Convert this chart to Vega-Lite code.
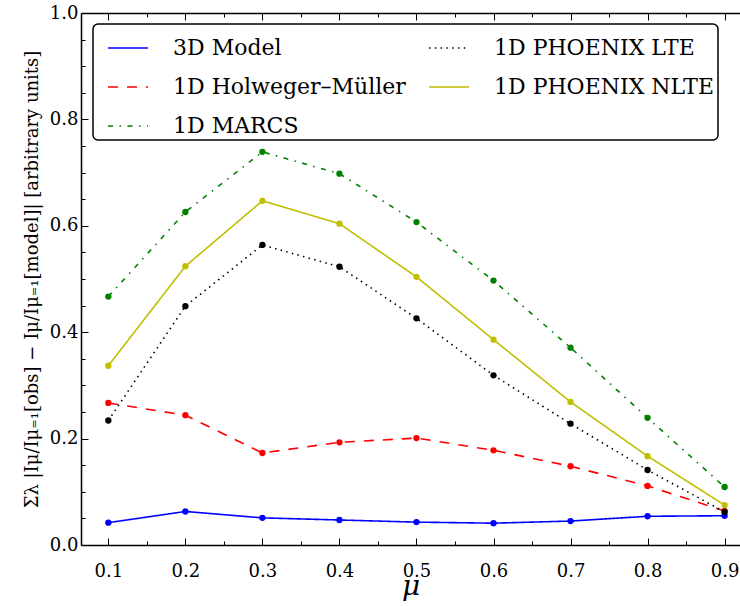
{
  "$schema": "https://vega.github.io/schema/vega-lite/v6.json",
  "width": 659,
  "height": 532,
  "autosize": "none",
  "padding": {"left": 81, "top": 13, "right": 0, "bottom": 61},
  "background": "white",
  "config": {
    "font": "DejaVu Serif",
    "view": {"stroke": null},
    "legend": {"labelFont": "DejaVu Serif"},
    "axis": {
      "grid": false,
      "domainColor": "black",
      "domainWidth": 1.5,
      "tickColor": "black",
      "tickWidth": 1,
      "labelColor": "black",
      "titleColor": "black",
      "labelFont": "DejaVu Serif",
      "titleFont": "DejaVu Serif",
      "labelFontSize": 18,
      "labelFlush": false,
      "labelOverlap": false
    }
  },
  "data": {
    "values": [
      {"mu": 0.1, "series": "3D Model", "v": 0.042},
      {"mu": 0.2, "series": "3D Model", "v": 0.063},
      {"mu": 0.3, "series": "3D Model", "v": 0.051},
      {"mu": 0.4, "series": "3D Model", "v": 0.047},
      {"mu": 0.5, "series": "3D Model", "v": 0.043},
      {"mu": 0.6, "series": "3D Model", "v": 0.041},
      {"mu": 0.7, "series": "3D Model", "v": 0.045},
      {"mu": 0.8, "series": "3D Model", "v": 0.054},
      {"mu": 0.9, "series": "3D Model", "v": 0.055},
      {"mu": 0.1, "series": "1D Holweger–Müller", "v": 0.267},
      {"mu": 0.2, "series": "1D Holweger–Müller", "v": 0.244},
      {"mu": 0.3, "series": "1D Holweger–Müller", "v": 0.173},
      {"mu": 0.4, "series": "1D Holweger–Müller", "v": 0.193},
      {"mu": 0.5, "series": "1D Holweger–Müller", "v": 0.201},
      {"mu": 0.6, "series": "1D Holweger–Müller", "v": 0.178},
      {"mu": 0.7, "series": "1D Holweger–Müller", "v": 0.148},
      {"mu": 0.8, "series": "1D Holweger–Müller", "v": 0.111},
      {"mu": 0.9, "series": "1D Holweger–Müller", "v": 0.064},
      {"mu": 0.1, "series": "1D MARCS", "v": 0.467},
      {"mu": 0.2, "series": "1D MARCS", "v": 0.626},
      {"mu": 0.3, "series": "1D MARCS", "v": 0.739},
      {"mu": 0.4, "series": "1D MARCS", "v": 0.698},
      {"mu": 0.5, "series": "1D MARCS", "v": 0.607},
      {"mu": 0.6, "series": "1D MARCS", "v": 0.497},
      {"mu": 0.7, "series": "1D MARCS", "v": 0.371},
      {"mu": 0.8, "series": "1D MARCS", "v": 0.239},
      {"mu": 0.9, "series": "1D MARCS", "v": 0.109},
      {"mu": 0.1, "series": "1D PHOENIX LTE", "v": 0.234},
      {"mu": 0.2, "series": "1D PHOENIX LTE", "v": 0.449},
      {"mu": 0.3, "series": "1D PHOENIX LTE", "v": 0.564},
      {"mu": 0.4, "series": "1D PHOENIX LTE", "v": 0.523},
      {"mu": 0.5, "series": "1D PHOENIX LTE", "v": 0.426},
      {"mu": 0.6, "series": "1D PHOENIX LTE", "v": 0.319},
      {"mu": 0.7, "series": "1D PHOENIX LTE", "v": 0.228},
      {"mu": 0.8, "series": "1D PHOENIX LTE", "v": 0.141},
      {"mu": 0.9, "series": "1D PHOENIX LTE", "v": 0.062},
      {"mu": 0.1, "series": "1D PHOENIX NLTE", "v": 0.337},
      {"mu": 0.2, "series": "1D PHOENIX NLTE", "v": 0.524},
      {"mu": 0.3, "series": "1D PHOENIX NLTE", "v": 0.647},
      {"mu": 0.4, "series": "1D PHOENIX NLTE", "v": 0.604},
      {"mu": 0.5, "series": "1D PHOENIX NLTE", "v": 0.504},
      {"mu": 0.6, "series": "1D PHOENIX NLTE", "v": 0.386},
      {"mu": 0.7, "series": "1D PHOENIX NLTE", "v": 0.269},
      {"mu": 0.8, "series": "1D PHOENIX NLTE", "v": 0.167},
      {"mu": 0.9, "series": "1D PHOENIX NLTE", "v": 0.075}
    ]
  },
  "layer": [
    {
      "mark": {"type": "line", "strokeWidth": 1.6, "point": {"filled": true, "size": 40}},
      "encoding": {
        "x": {
          "field": "mu",
          "type": "quantitative",
          "scale": {"domain": [0.0645, 0.92], "nice": false, "zero": false},
          "axis": {
            "orient": "bottom",
            "title": "μ",
            "titleFontSize": 28,
            "titleFontStyle": "italic",
            "titleFontWeight": "normal",
            "titlePadding": -11,
            "values": [0.1, 0.15, 0.2, 0.25, 0.3, 0.35, 0.4, 0.45, 0.5, 0.55, 0.6, 0.65, 0.7, 0.75, 0.8, 0.85, 0.9],
            "labelExpr": "abs(datum.value*10 - round(datum.value*10)) < 1e-6 ? format(datum.value, '.1f') : ''",
            "tickSize": {"condition": {"test": "abs(datum.value*10 - round(datum.value*10)) < 1e-6", "value": -7}, "value": -4},
            "labelPadding": 24
          }
        },
        "y": {
          "field": "v",
          "type": "quantitative",
          "scale": {"domain": [0, 1], "nice": false},
          "axis": {
            "orient": "left",
            "title": "Σλ |Iμ/Iμ₌₁[obs] − Iμ/Iμ₌₁[model]| [arbitrary units]",
            "titleFontSize": 18,
            "titleFontWeight": "normal",
            "titlePadding": 8,
            "values": [0, 0.05, 0.1, 0.15, 0.2, 0.25, 0.3, 0.35, 0.4, 0.45, 0.5, 0.55, 0.6, 0.65, 0.7, 0.75, 0.8, 0.85, 0.9, 0.95, 1],
            "labelExpr": "abs(datum.value*5 - round(datum.value*5)) < 1e-6 ? format(datum.value, '.1f') : ''",
            "tickSize": {"condition": {"test": "abs(datum.value*5 - round(datum.value*5)) < 1e-6", "value": -7}, "value": -4},
            "labelPadding": 10
          }
        },
        "color": {
          "field": "series",
          "type": "nominal",
          "scale": {
            "domain": ["3D Model", "1D Holweger–Müller", "1D MARCS", "1D PHOENIX LTE", "1D PHOENIX NLTE"],
            "range": ["#0000ff", "#ff0000", "#008000", "#000000", "#bfbf00"]
          },
          "legend": {
            "title": null,
            "orient": "none",
            "legendX": 12,
            "legendY": 11,
            "direction": "vertical",
            "columns": 2,
            "columnPadding": 11,
            "rowPadding": 7,
            "padding": 3,
            "symbolOffset": 11,
            "fillColor": "white",
            "strokeColor": "black",
            "cornerRadius": 5,
            "symbolType": "stroke",
            "symbolSize": 1600,
            "symbolStrokeWidth": 1.6,
            "labelFontSize": 22,
            "labelFont": "DejaVu Serif",
            "labelColor": "black",
            "labelOffset": 24,
            "labelLimit": 400,
            "encode": {"legend": {"update": {"strokeWidth": {"value": 1.5}}}}
          }
        },
        "strokeDash": {
          "field": "series",
          "type": "nominal",
          "scale": {
            "domain": ["3D Model", "1D Holweger–Müller", "1D MARCS", "1D PHOENIX LTE", "1D PHOENIX NLTE"],
            "range": [[1, 0], [10, 9], [5, 6.5, 1.5, 6.5], [1.5, 4.3], [1, 0]]
          }
        }
      }
    },
    {
      "mark": {"type": "line", "opacity": 0},
      "encoding": {
        "x": {
          "field": "mu",
          "type": "quantitative",
          "axis": {
            "orient": "top",
            "title": null,
            "labels": false,
            "values": [0.1, 0.15, 0.2, 0.25, 0.3, 0.35, 0.4, 0.45, 0.5, 0.55, 0.6, 0.65, 0.7, 0.75, 0.8, 0.85, 0.9],
            "tickSize": {"condition": {"test": "abs(datum.value*10 - round(datum.value*10)) < 1e-6", "value": -7}, "value": -4}
          }
        },
        "y": {"field": "v", "type": "quantitative", "axis": null},
        "detail": {"field": "series"}
      }
    }
  ],
  "resolve": {"axis": {"x": "independent", "y": "independent"}}
}
